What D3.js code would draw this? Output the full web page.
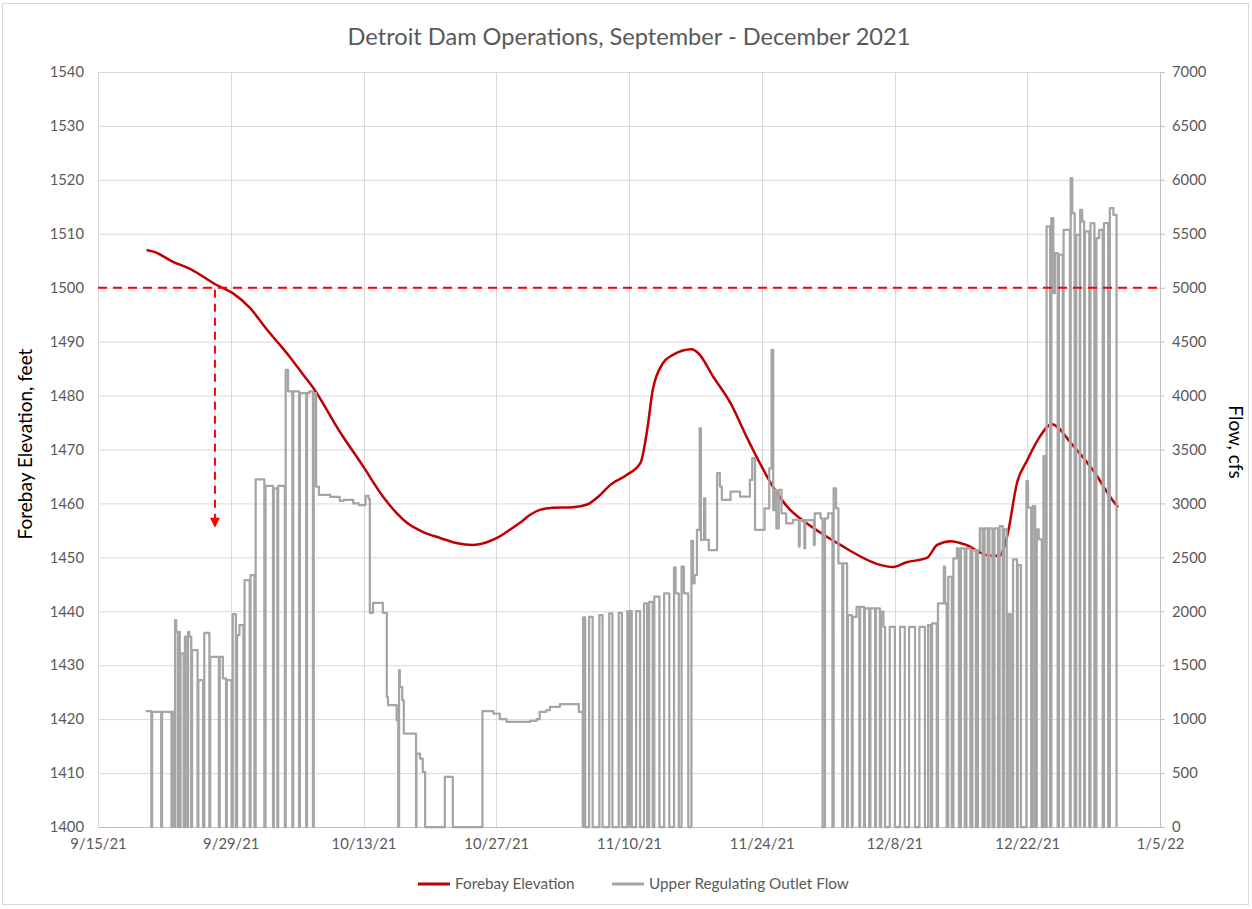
<!DOCTYPE html>
<html><head><meta charset="utf-8">
<script src="https://cdn.jsdelivr.net/npm/d3@7"></script>
<style>
body{margin:0;background:#fff;}
text{font-family:Lato,"Open Sans",sans-serif;}
</style>
</head><body>
<svg id="chart" width="1252" height="909"></svg>
<script>
// ---------------- data ----------------
const chartTitle = "Detroit Dam Operations, September - December 2021";
const leftAxisTitle = "Forebay Elevation, feet";
const rightAxisTitle = "Flow, cfs";
const seriesNames = ["Forebay Elevation", "Upper Regulating Outlet Flow"];
const xTickLabels = ["9/15/21","9/29/21","10/13/21","10/27/21","11/10/21","11/24/21","12/8/21","12/22/21","1/5/22"];
const elevationTicks = [1400,1410,1420,1430,1440,1450,1460,1470,1480,1490,1500,1510,1520,1530,1540];
const flowTicks = [0,500,1000,1500,2000,2500,3000,3500,4000,4500,5000,5500,6000,6500,7000];
const targetElevation = 1500;           // dashed reference line
const arrowDate = "9/27/21 8";          // dashed arrow time
const arrowTipElevation = 1455.5;       // arrow head tip

// Forebay elevation, feet  [date hour, value]
const elevationSeries = [
["9/20/21 3",1507.0],["9/21/21 0",1506.6],["9/22/21 22",1504.8],["9/24/21 17",1503.5],["9/27/21 12",1500.5],
["9/29/21 5",1499.0],["10/1/21 0",1496.3],["10/2/21 19",1492.3],["10/5/21 5",1487.2],["10/6/21 14",1484.0],
["10/7/21 17",1481.4],["10/10/21 12",1473.3],["10/12/21 22",1467.0],["10/15/21 2",1461.2],["10/16/21 12",1458.2],
["10/17/21 14",1456.4],["10/19/21 7",1454.7],["10/21/21 2",1453.6],["10/22/21 22",1452.6],["10/24/21 12",1452.3],
["10/26/21 0",1452.8],["10/27/21 2",1453.6],["10/28/21 2",1454.7],["10/29/21 12",1456.4],["10/30/21 14",1457.9],
["10/31/21 14",1458.8],["11/2/21 0",1459.2],["11/4/21 2",1459.3],["11/5/21 14",1459.8],["11/6/21 22",1461.5],
["11/8/21 0",1463.4],["11/9/21 19",1465.3],["11/11/21 5",1467.5],["11/11/21 22",1473.6],["11/12/21 12",1481.0],
["11/13/21 14",1486.0],["11/14/21 14",1487.5],["11/16/21 14",1488.6],["11/17/21 7",1487.9],["11/18/21 22",1483.4],
["11/20/21 17",1478.6],["11/22/21 10",1472.3],["11/23/21 19",1467.5],["11/25/21 5",1463.0],["11/27/21 0",1458.8],
["11/28/21 0",1457.3],["11/30/21 2",1454.7],["12/2/21 7",1452.3],["12/6/21 12",1448.6],["12/7/21 19",1448.2],
["12/9/21 7",1449.1],["12/11/21 10",1449.9],["12/12/21 12",1452.3],["12/13/21 22",1453.0],["12/15/21 14",1452.3],
["12/17/21 19",1450.4],["12/19/21 2",1450.3],["12/19/21 22",1454.2],["12/20/21 22",1463.8],["12/22/21 0",1468.0],
["12/23/21 7",1472.3],["12/24/21 14",1474.7],["12/26/21 19",1470.8],["12/29/21 0",1466.0],["12/31/21 0",1460.6],
["12/31/21 14",1459.3]
];

// Upper regulating outlet flow, cfs  [date hour, value held until next entry]
const flowSeries = [
["9/20/21 1",1074],["9/20/21 15",0],["9/20/21 17",1067],["9/21/21 16",0],["9/21/21 18",1067],["9/22/21 18",0],
["9/22/21 20",1067],["9/23/21 1",0],["9/23/21 3",1918],["9/23/21 6",1810],["9/23/21 10",0],["9/23/21 12",1810],
["9/23/21 15",0],["9/23/21 17",1609],["9/24/21 1",0],["9/24/21 4",1764],["9/24/21 10",0],["9/24/21 12",1810],
["9/24/21 15",1764],["9/24/21 20",0],["9/24/21 22",1640],["9/25/21 12",0],["9/25/21 14",1361],["9/26/21 2",0],
["9/26/21 5",1800],["9/26/21 18",0],["9/26/21 20",1578],["9/27/21 18",0],["9/27/21 20",1578],["9/28/21 4",1377],
["9/28/21 12",0],["9/28/21 14",1361],["9/29/21 2",0],["9/29/21 5",1974],["9/29/21 13",0],["9/29/21 16",1779],
["9/29/21 22",1872],["9/30/21 8",0],["9/30/21 11",2290],["10/1/21 0",0],["10/1/21 2",2336],["10/1/21 12",0],
["10/1/21 15",3224],["10/2/21 13",0],["10/2/21 16",3162],["10/3/21 11",0],["10/3/21 13",3140],["10/3/21 22",0],
["10/4/21 0",3162],["10/4/21 17",0],["10/4/21 19",4239],["10/5/21 1",4038],["10/5/21 12",0],["10/5/21 14",4038],
["10/6/21 5",0],["10/6/21 7",4022],["10/6/21 23",0],["10/7/21 1",4022],["10/7/21 7",4038],["10/7/21 16",0],
["10/7/21 18",4022],["10/8/21 0",3155],["10/8/21 7",3080],["10/9/21 12",3060],["10/10/21 12",3023],["10/10/21 22",3033],
["10/11/21 22",3000],["10/12/21 12",2985],["10/13/21 5",3070],["10/13/21 13",3040],["10/13/21 16",1986],["10/14/21 0",2079],
["10/15/21 1",1986],["10/15/21 11",1207],["10/15/21 14",1129],["10/16/21 12",990],["10/16/21 16",0],["10/16/21 18",1454],
["10/16/21 20",1300],["10/17/21 2",1176],["10/17/21 6",866],["10/18/21 13",0],["10/18/21 14",681],["10/18/21 23",634],
["10/19/21 6",510],["10/19/21 12",0],["10/21/21 14",464],["10/22/21 10",0],["10/25/21 13",1074],["10/26/21 17",1052],
["10/27/21 9",1000],["10/28/21 2",975],["10/30/21 14",985],["10/31/21 6",1000],["10/31/21 14",1067],["11/1/21 7",1083],
["11/1/21 16",1114],["11/2/21 17",1139],["11/4/21 17",1067],["11/5/21 3",0],
["11/5/21 4",1943],["11/5/21 9",0],["11/5/21 19",1949],["11/6/21 4",0],["11/6/21 21",1965],["11/7/21 5",0],
["11/7/21 22",1980],["11/8/21 6",0],["11/8/21 22",1986],["11/9/21 6",0],["11/9/21 20",2002],["11/10/21 0",0],
["11/10/21 2",2002],["11/10/21 7",0],["11/10/21 18",2002],["11/11/21 4",0],["11/11/21 14",2073],["11/11/21 22",0],
["11/12/21 3",2088],["11/12/21 12",0],["11/12/21 16",2135],["11/13/21 5",0],["11/13/21 17",2166],["11/14/21 6",0],
["11/14/21 18",2407],["11/14/21 22",2166],["11/15/21 6",0],["11/15/21 13",2413],["11/15/21 19",2166],["11/16/21 6",0],
["11/16/21 14",2652],["11/16/21 18",2259],["11/16/21 22",2336],["11/17/21 4",2754],["11/17/21 11",3697],["11/17/21 14",2661],
["11/17/21 22",3048],["11/18/21 1",2661],["11/18/21 10",2568],["11/19/21 7",3280],["11/19/21 14",3156],["11/19/21 19",3032],
["11/20/21 17",3110],["11/21/21 17",3063],["11/22/21 18",3218],["11/23/21 0",3419],["11/23/21 7",2754],["11/24/21 7",2955],
["11/24/21 19",3326],["11/25/21 1",4424],["11/25/21 5",2939],["11/25/21 10",3125],["11/25/21 13",2769],["11/25/21 19",3125],
["11/26/21 2",2908],["11/26/21 14",2816],["11/27/21 7",2847],["11/27/21 22",2600],["11/28/21 0",2846],["11/28/21 12",2583],
["11/28/21 14",2846],["11/29/21 12",2614],["11/29/21 14",2908],["11/30/21 5",2862],["11/30/21 10",0],["11/30/21 16",2862],
["12/1/21 0",2908],["12/1/21 11",0],["12/1/21 14",3140],["12/1/21 20",2955],["12/2/21 2",2444],["12/2/21 12",0],
["12/2/21 14",2444],["12/3/21 0",0],["12/3/21 2",1965],["12/3/21 12",0],["12/3/21 14",1949],["12/4/21 0",2042],
["12/4/21 7",0],["12/4/21 9",2042],["12/4/21 19",0],["12/4/21 21",2027],["12/5/21 8",0],["12/5/21 11",2027],
["12/5/21 23",0],["12/6/21 1",2027],["12/6/21 11",0],["12/6/21 14",1996],["12/6/21 20",1856],["12/7/21 0",0],
["12/7/21 12",1856],["12/8/21 1",0],["12/8/21 14",1856],["12/9/21 2",0],["12/9/21 13",1856],["12/10/21 4",0],
["12/10/21 15",1856],["12/11/21 5",0],["12/11/21 13",1872],["12/11/21 20",0],["12/11/21 23",1887],["12/12/21 11",0],
["12/12/21 14",2073],["12/13/21 5",2413],["12/13/21 8",2073],["12/13/21 12",0],["12/13/21 16",2320],["12/14/21 1",0],
["12/14/21 5",2491],["12/14/21 14",2583],["12/14/21 19",0],["12/15/21 0",2583],["12/15/21 10",0],["12/15/21 14",2583],
["12/16/21 0",0],["12/16/21 5",2568],["12/16/21 14",0],["12/16/21 19",2568],["12/17/21 0",2769],["12/17/21 7",0],
["12/17/21 12",2769],["12/17/21 20",0],["12/18/21 0",2769],["12/18/21 8",0],["12/18/21 13",2769],["12/18/21 22",0],
["12/19/21 2",2790],["12/19/21 10",0],["12/19/21 13",2760],["12/19/21 20",0],["12/20/21 0",1973],["12/20/21 6",0],
["12/20/21 12",2481],["12/20/21 22",0],["12/21/21 0",2429],["12/21/21 8",0],["12/21/21 22",3207],["12/22/21 2",2960],
["12/22/21 10",0],["12/22/21 14",2976],["12/22/21 20",0],["12/23/21 0",2760],["12/23/21 5",2667],["12/23/21 13",0],
["12/23/21 17",3438],["12/23/21 23",0],["12/24/21 1",5568],["12/24/21 10",0],["12/24/21 13",5645],["12/24/21 18",4950],
["12/24/21 22",5321],["12/25/21 5",0],["12/25/21 8",5306],["12/25/21 18",0],["12/25/21 20",5537],["12/26/21 12",0],
["12/26/21 14",6015],["12/26/21 18",5691],["12/27/21 0",0],["12/27/21 4",5491],["12/27/21 13",0],["12/27/21 14",5722],
["12/27/21 19",5614],["12/28/21 0",0],["12/28/21 2",5522],["12/28/21 13",0],["12/28/21 16",5599],["12/29/21 2",0],
["12/29/21 7",5460],["12/29/21 14",5537],["12/29/21 23",0],["12/30/21 2",5599],["12/30/21 13",0],["12/30/21 17",5738],
["12/31/21 2",5676],["12/31/21 10",0]
];

// ---------------- drawing ----------------
const parseHour = d3.timeParse("%m/%d/%y %H");
const parseDay = d3.timeParse("%m/%d/%y");
const tickDates = xTickLabels.map(parseDay);

const svg = d3.select("#chart");
const W = 1252, H = 909;
const plot = {left: 98, right: 1160, top: 72, bottom: 827};
const tickFont = "14.8px";

svg.append("rect").attr("x",2.5).attr("y",3.5).attr("width",W-6).attr("height",H-8)
  .attr("fill","#fff").attr("stroke","#D9D9D9");

const x = d3.scaleTime().domain([tickDates[0], tickDates[tickDates.length-1]]).range([plot.left, plot.right]);
const yL = d3.scaleLinear().domain([elevationTicks[0], elevationTicks[elevationTicks.length-1]]).range([plot.bottom, plot.top]);
const yR = d3.scaleLinear().domain([flowTicks[0], flowTicks[flowTicks.length-1]]).range([plot.bottom, plot.top]);

const grid = svg.append("g");
grid.selectAll("line.h").data(elevationTicks).join("line")
  .attr("x1",plot.left).attr("x2",plot.right)
  .attr("y1",d=>yL(d)+0.5).attr("y2",d=>yL(d)+0.5)
  .attr("stroke","#D9D9D9").attr("stroke-width",1);
grid.selectAll("line.v").data(tickDates).join("line")
  .attr("x1",d=>Math.round(x(d))+0.5).attr("x2",d=>Math.round(x(d))+0.5)
  .attr("y1",plot.top).attr("y2",plot.bottom)
  .attr("stroke","#D9D9D9").attr("stroke-width",1);

const tickColor = "#595959";
// left axis
const gL = svg.append("g").attr("transform",`translate(${plot.left},0)`)
  .call(d3.axisLeft(yL).tickValues(elevationTicks).tickSize(0).tickPadding(14).tickFormat(d3.format("d")));
gL.select(".domain").remove();
gL.selectAll("text").attr("fill",tickColor).style("font-size",tickFont);
// right axis
const gR = svg.append("g").attr("transform",`translate(${plot.right},0)`)
  .call(d3.axisRight(yR).tickValues(flowTicks).tickSize(5).tickPadding(7).tickFormat(d3.format("d")));
gR.select(".domain").attr("stroke","#BFBFBF");
gR.selectAll(".tick line").attr("stroke","#BFBFBF");
gR.selectAll("text").attr("fill",tickColor).style("font-size",tickFont);
// bottom axis
const gB = svg.append("g").attr("transform",`translate(0,${plot.bottom})`)
  .call(d3.axisBottom(x).tickValues(tickDates).tickSize(0).tickPadding(11).tickFormat((d,i)=>xTickLabels[i]));
gB.select(".domain").attr("stroke","#BFBFBF");
gB.selectAll("text").attr("fill",tickColor).style("font-size",tickFont);

// elevation line
const elevData = elevationSeries.map(d=>({t:parseHour(d[0]), v:d[1]}));
svg.append("path").datum(elevData)
  .attr("fill","none").attr("stroke","#C00000").attr("stroke-width",2.5)
  .attr("d", d3.line().x(d=>x(d.t)).y(d=>yL(d.v)).curve(d3.curveMonotoneX));

// flow line
const flowData = flowSeries.map(d=>({t:parseHour(d[0]), v:d[1]}));
svg.append("path").datum(flowData)
  .attr("fill","none").attr("stroke","#A5A5A5").attr("stroke-width",2.25).attr("stroke-linejoin","round")
  .attr("d", d3.line().x(d=>x(d.t)).y(d=>yR(d.v)).curve(d3.curveStepAfter));

// reference dashed line
svg.append("line")
  .attr("x1",plot.left).attr("x2",plot.right)
  .attr("y1",yL(targetElevation)).attr("y2",yL(targetElevation))
  .attr("stroke","#FF0000").attr("stroke-width",2).attr("stroke-dasharray","9,6");
// dashed arrow
const ax = x(parseHour(arrowDate));
const tipY = yL(arrowTipElevation);
svg.append("line")
  .attr("x1",ax).attr("x2",ax).attr("y1",yL(targetElevation)+2).attr("y2",tipY-9)
  .attr("stroke","#FF0000").attr("stroke-width",2).attr("stroke-dasharray","8,6");
svg.append("path")
  .attr("d",`M${ax-5},${tipY-10}L${ax+5},${tipY-10}L${ax},${tipY}Z`).attr("fill","#FF0000");

// title
svg.append("text").attr("x",629).attr("y",45).attr("text-anchor","middle")
  .attr("fill","#595959").style("font-size","23.6px").text(chartTitle);
// axis titles
svg.append("text").attr("transform",`translate(32,444) rotate(-90)`).attr("text-anchor","middle")
  .attr("fill","#000").style("font-size","19px").text(leftAxisTitle);
svg.append("text").attr("transform",`translate(1229,442) rotate(90)`).attr("text-anchor","middle")
  .attr("fill","#000").style("font-size","19px").text(rightAxisTitle);

// legend
const legend = svg.append("g");
const legendItems = [
  {name:seriesNames[0], color:"#C00000", x:418},
  {name:seriesNames[1], color:"#A5A5A5", x:612}
];
legendItems.forEach(it=>{
  legend.append("line").attr("x1",it.x).attr("x2",it.x+32).attr("y1",884).attr("y2",884)
    .attr("stroke",it.color).attr("stroke-width",3);
  legend.append("text").attr("x",it.x+37).attr("y",889).attr("fill","#595959")
    .style("font-size","15.3px").text(it.name);
});
</script>
</body></html>
